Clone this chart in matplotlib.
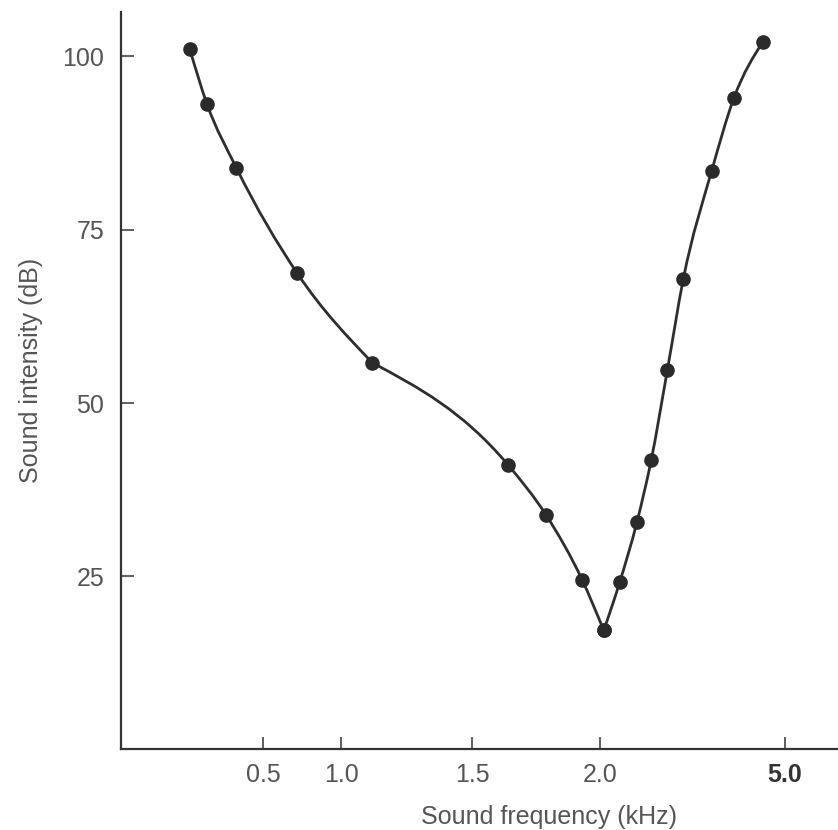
import numpy as np
import matplotlib
matplotlib.use('Agg')
import matplotlib.pyplot as plt
from matplotlib.path import Path
from matplotlib.patches import PathPatch

# Measured points (frequency in kHz, intensity in dB)
freqLeft = [0.03, 0.14, 0.33, 0.72, 1.12, 1.64, 1.79, 1.93, 2.06]
dbLeft = [101.1, 93.2, 83.9, 68.7, 55.8, 41.1, 33.8, 24.5, 17.2]
freqRight = [2.06, 2.32, 2.60, 2.83, 3.09, 3.35, 3.81, 4.17, 4.64]
dbRight = [17.2, 24.2, 32.9, 41.8, 54.7, 67.9, 83.5, 94.0, 102.1]

# Tick positions / labels
xTicks = [0.5, 1.0, 1.5, 2.0, 5.0]
xTickLabels = ['0.5', '1.0', '1.5', '2.0', '5.0']
yTicks = [25, 50, 75, 100]

# Irregular frequency axis of the original figure (piecewise linear)
axisFreq = [-1.0, 0.5, 1.0, 1.5, 2.0, 5.0, 7.0]
axisPos = [29.0, 263.0, 341.0, 472.0, 600.0, 785.0, 908.0]

def forward(x):
    return np.interp(x, axisFreq, axisPos)

def inverse(p):
    return np.interp(p, axisPos, axisFreq)

def smoothPath(xs, ys):
    """
    Hermite curve through the points (built in scaled x space),
    drawn as cubic Bezier segments. Natural end conditions.
    """
    px = forward(np.array(xs))
    py = np.array(ys, dtype=float)
    n = len(px)
    h = np.diff(px)
    s = np.diff(py) / h
    m = np.zeros(n)
    for i in range(1, n - 1):
        m[i] = (h[i] * s[i - 1] + h[i - 1] * s[i]) / (h[i - 1] + h[i])
    m[0] = (3 * s[0] - m[1]) / 2 if n > 2 else s[0]
    m[-1] = (3 * s[-1] - m[-2]) / 2 if n > 2 else s[-1]

    verts = [(xs[0], ys[0])]
    codes = [Path.MOVETO]
    for i in range(n - 1):
        c1 = (inverse(px[i] + h[i] / 3), py[i] + m[i] * h[i] / 3)
        c2 = (inverse(px[i + 1] - h[i] / 3), py[i + 1] - m[i + 1] * h[i] / 3)
        verts += [c1, c2, (xs[i + 1], ys[i + 1])]
        codes += [Path.CURVE4] * 3
    return Path(verts, codes)

plt.rcParams['font.family'] = ['Liberation Sans', 'DejaVu Sans']

fig = plt.figure(figsize=(8.38, 8.30), dpi=100)
ax = fig.add_axes([0.1444, 0.0976, 0.8556, 0.8879])
ax.set_xscale('function', functions=(forward, inverse))

lineColor = '#2e2e2e'
# The hand-drawn curve has corners at 1.12 kHz and at the minimum
cornerIdx = 4
pieces = [(freqLeft[:cornerIdx + 1], dbLeft[:cornerIdx + 1]),
          (freqLeft[cornerIdx:], dbLeft[cornerIdx:]),
          (freqRight, dbRight)]
for xs, ys in pieces:
    ax.add_patch(PathPatch(smoothPath(xs, ys), facecolor='none', edgecolor=lineColor, lw=2.0, zorder=2))

for xs, ys in [(freqLeft, dbLeft), (freqRight, dbRight)]:
    ax.plot(xs, ys, linestyle='none', marker='o', markersize=9.5, color='#2a2a2a', zorder=3)

ax.set_xlim(-0.41, 5.86)
ax.set_ylim(0.1, 106.4)

# Spines
for side in ['top', 'right']:
    ax.spines[side].set_visible(False)
for side in ['left', 'bottom']:
    ax.spines[side].set_color('#333333')
    ax.spines[side].set_linewidth(1.6)

ax.set_xticks(xTicks)
ax.set_xticklabels(xTickLabels)
ax.set_yticks(yTicks)
ax.minorticks_off()
ax.tick_params(axis='both', direction='in', length=9, width=1.2, color='#444444',
               labelsize=18, labelcolor='#555555')
ax.tick_params(axis='x', pad=10)
ax.tick_params(axis='y', pad=12)
ax.get_xticklabels()[-1].set_fontweight('bold')
ax.get_xticklabels()[-1].set_color('#333333')

ax.set_xlabel('Sound frequency (kHz)', fontsize=18, color='#555555')
ax.set_ylabel('Sound intensity (dB)', fontsize=18, color='#555555')
ax.xaxis.set_label_coords(0.597, -0.092)
ax.xaxis.label.set_verticalalignment('center')
ax.yaxis.set_label_coords(-0.125, 0.514)
ax.yaxis.label.set_verticalalignment('center')

fig.savefig('out.png', dpi=100)
